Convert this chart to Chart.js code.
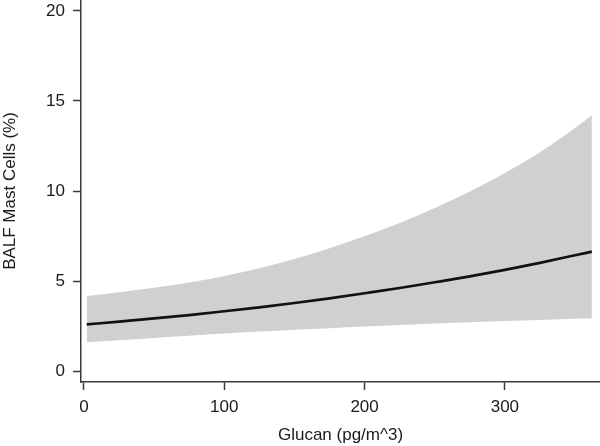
<!DOCTYPE html>
<html>
<head>
<meta charset="utf-8">
<script src="https://cdn.jsdelivr.net/npm/chart.js@4"></script>
<style>
  body { margin: 0; background: #fff; }
</style>
</head>
<body>
<canvas id="chart" width="600" height="446"></canvas>
<script>
// Glucan exposure (pg/m^3) and predicted BALF mast cells (%) with 95% band
const glucan = [2, 25, 50, 75, 100, 125, 150, 175, 200, 225, 250, 275, 300, 325, 350, 362];
const fitted = [2.59, 2.74, 2.92, 3.11, 3.32, 3.54, 3.78, 4.04, 4.32, 4.61, 4.93, 5.26, 5.62, 6.01, 6.43, 6.63];
const upper  = [4.17, 4.38, 4.63, 4.92, 5.28, 5.71, 6.22, 6.82, 7.48, 8.22, 9.05, 9.97, 11.0, 12.15, 13.5, 14.2];
const lower  = [1.60, 1.71, 1.84, 1.96, 2.08, 2.19, 2.29, 2.38, 2.47, 2.56, 2.64, 2.71, 2.78, 2.84, 2.90, 2.93];
const xTicks = [0, 100, 200, 300];
const yTicks = [0, 5, 10, 15, 20];

const toPoints = ys => glucan.map((x, i) => ({ x: x, y: ys[i] }));

const axisColor = "#3a3a3a";
const textColor = "#1a1a1a";
const font = { family: "'Liberation Sans', Arial, sans-serif", size: 17 };

// keep the plot area flush with the canvas edges like the original
function noPad(axis) {
    axis.paddingTop = 0;
    axis.paddingBottom = 0;
    axis.paddingLeft = 0;
    axis.paddingRight = 0;
}

new Chart(document.getElementById("chart").getContext("2d"), {
    type: "line",
    data: {
        datasets: [
            {
                label: "Fitted",
                data: toPoints(fitted),
                borderColor: "#111111",
                borderWidth: 2.7,
                pointRadius: 0,
                cubicInterpolationMode: "monotone",
                fill: false
            },
            {
                label: "Upper",
                data: toPoints(upper),
                borderWidth: 0,
                pointRadius: 0,
                cubicInterpolationMode: "monotone",
                backgroundColor: "#d0d0d0",
                fill: "+1"
            },
            {
                label: "Lower",
                data: toPoints(lower),
                borderWidth: 0,
                pointRadius: 0,
                cubicInterpolationMode: "monotone",
                fill: false
            }
        ]
    },
    options: {
        responsive: false,
        animation: false,
        layout: { padding: 0 },
        plugins: {
            legend: { display: false },
            tooltip: { enabled: false }
        },
        scales: {
            x: {
                type: "linear",
                min: -2.1,
                max: 367.8,
                afterBuildTicks: axis => { axis.ticks = xTicks.map(v => ({ value: v })); },
                afterFit: axis => { axis.height = 64; noPad(axis); },
                grid: {
                    drawOnChartArea: false,
                    drawTicks: true,
                    tickLength: 8,
                    tickWidth: 1.5,
                    tickColor: axisColor
                },
                border: { display: true, color: axisColor, width: 1.5 },
                ticks: { color: textColor, font: font, padding: 7, maxRotation: 0 },
                title: {
                    display: true,
                    text: "Glucan (pg/m^3)",
                    color: textColor,
                    font: font,
                    padding: { top: 0, bottom: 0 }
                }
            },
            y: {
                type: "linear",
                min: -0.61,
                max: 20.61,
                afterBuildTicks: axis => { axis.ticks = yTicks.map(v => ({ value: v })); },
                afterFit: axis => { axis.width = 81; noPad(axis); },
                grid: {
                    drawOnChartArea: false,
                    drawTicks: true,
                    tickLength: 8,
                    tickWidth: 1.5,
                    tickColor: axisColor
                },
                border: { display: true, color: axisColor, width: 1.5 },
                ticks: { color: textColor, font: font, padding: 8 },
                title: {
                    display: true,
                    text: "BALF Mast Cells (%)",
                    color: textColor,
                    font: font,
                    padding: { top: 0, bottom: 0 }
                }
            }
        }
    }
});
</script>
</body>
</html>
